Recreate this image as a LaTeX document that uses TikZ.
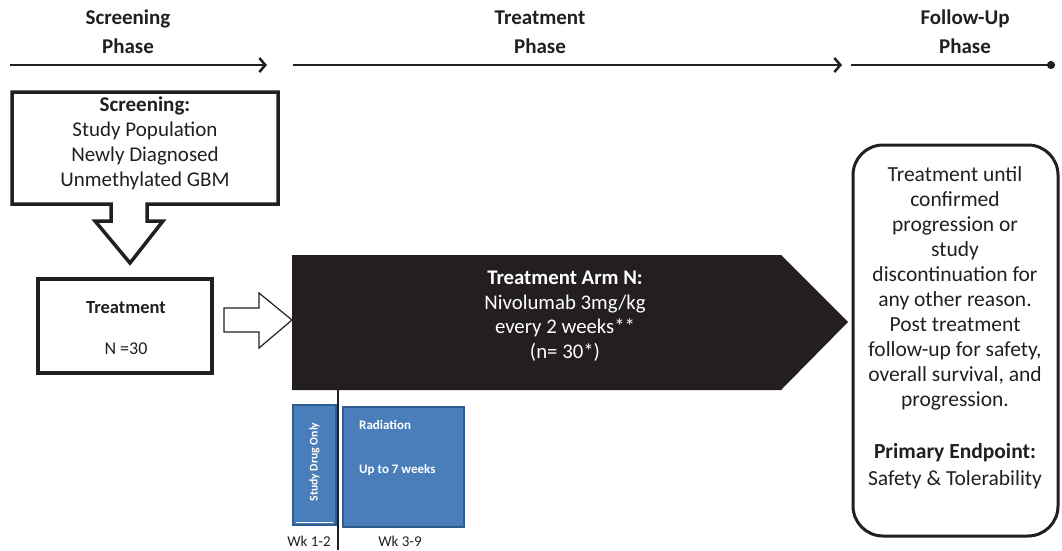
\documentclass[tikz,border=0pt]{standalone}
\usepackage{fontspec}
\setmainfont{Carlito}
\usetikzlibrary{arrows.meta}
\definecolor{armblack}{HTML}{231F20}
\definecolor{blockblue}{HTML}{4A7EBB}
\definecolor{blockedge}{HTML}{2F5C8F}
\tikzset{
  phasearrow/.style={line width=2.5pt, draw=armblack, -{Straight Barb[length=6pt,width=14pt,line width=2.5pt]}},
  phaseend/.style={line width=2.5pt, draw=armblack, -{Circle[length=8pt]}},
  phaselabel/.style={font=\fontsize{21}{29}\selectfont\bfseries, align=center, text=armblack},
  outline/.style={draw=armblack, line width=3.5pt, line join=miter, fill=white},
  body/.style={font=\fontsize{21.5}{25}\selectfont, align=center, text=armblack},
  armtext/.style={font=\fontsize{20.8}{24.5}\selectfont, align=center, text=white},
  bluebox/.style={draw=blockedge, line width=2.5pt, fill=blockblue, inner sep=0pt},
  bluetext/.style={text=white, font=\fontsize{13}{15}\selectfont\bfseries, inner sep=0pt},
  weeklabel/.style={font=\fontsize{15}{17}\selectfont, text=armblack, inner sep=0pt},
}
\begin{document}
\begin{tikzpicture}[x=1pt,y=-1pt]
\useasboundingbox (0,0) rectangle (1062,550);

% phase timeline
\coordinate (s0) at (10,65);
\coordinate (s1) at (267,65);
\coordinate (t0) at (293,65);
\coordinate (t1) at (842,65);
\coordinate (f0) at (851,65);
\coordinate (f1) at (1055,65);
\draw[phasearrow] (s0) -- (s1);
\draw[phasearrow] (t0) -- (t1);
\draw[phaseend] (f0) -- (f1);
\node[phaselabel] (screenphase) at (128,32) {Screening\\Phase};
\node[phaselabel] (treatphase) at (540,32) {Treatment\\Phase};
\node[phaselabel] (followphase) at (965,32) {Follow-Up\\Phase};

% screening box merged with its downward block arrow
\draw[outline] (12,92) -- (278,92) -- (278,204) -- (147,204) -- (147,221)
  -- (163,221) -- (130,263) -- (95,221) -- (111,221) -- (111,204)
  -- (12,204) -- cycle;
\node[body, font=\fontsize{21}{25}\selectfont] (screening) at (145,143)
  {\textbf{Screening:}\\Study Population\\Newly Diagnosed\\Unmethylated GBM};

% treatment count box
\node[outline, minimum width=174pt, minimum height=94pt, inner sep=0pt]
  (treatbox) at (125,326) {};
\node[font=\fontsize{18.5}{20}\selectfont\bfseries, text=armblack]
  (treatlabel) at (126,308) {Treatment};
\node[font=\fontsize{18}{20}\selectfont, text=armblack]
  (treatn) at (126,349) {N =30};

% hollow block arrow into the treatment arm
\draw[draw=armblack, line width=1.2pt, fill=white, line join=miter]
  (224,308) -- (259,308) -- (259,293) -- (292,320) -- (259,348)
  -- (259,332) -- (224,332) -- cycle;

% treatment arm pentagon
\fill[armblack] (292,255) -- (781,255) -- (848,322) -- (781,390)
  -- (292,390) -- cycle;
\node[armtext] (arm) at (565,316)
  {\textbf{Treatment Arm N:}\\Nivolumab 3mg/kg\\every 2 weeks**\\(n= 30*)};

% week divider
\coordinate (divtop) at (338,390);
\coordinate (divbot) at (338,550);
\draw[armblack, line width=1.3pt] (divtop) -- (divbot);

% study drug only and radiation blocks
\node[bluebox, minimum width=43pt, minimum height=120pt] (drugonly) at (314.5,465) {};
\draw[white, line width=1pt] (296,522) -- (333,522);
\node[bluetext, font=\fontsize{11.7}{13}\selectfont\bfseries, rotate=90]
  (druglabel) at (314.5,462) {Study Drug Only};
\node[bluebox, minimum width=121pt, minimum height=120pt] (radiation) at (403.5,467) {};
\node[bluetext, anchor=west] (radlabel) at (359,425) {Radiation};
\node[bluetext, anchor=west] (radweeks) at (359,470) {Up to 7 weeks};
\node[weeklabel] (wk12) at (309,541) {Wk 1-2};
\node[weeklabel] (wk39) at (400,541) {Wk 3-9};

% follow-up box
\draw[draw=armblack, line width=3pt, fill=white, rounded corners=30pt]
  (853,145) rectangle (1058,536);
\node[body] (followtext) at (955,288)
  {Treatment until\\confirmed\\progression or\\study\\discontinuation for\\any other reason.\\Post treatment\\follow-up for safety,\\overall survival, and\\progression.};
\node[body, font=\fontsize{21.5}{27}\selectfont] (endpoint) at (955,466)
  {\textbf{Primary Endpoint:}\\Safety \& Tolerability};
\end{tikzpicture}
\end{document}
